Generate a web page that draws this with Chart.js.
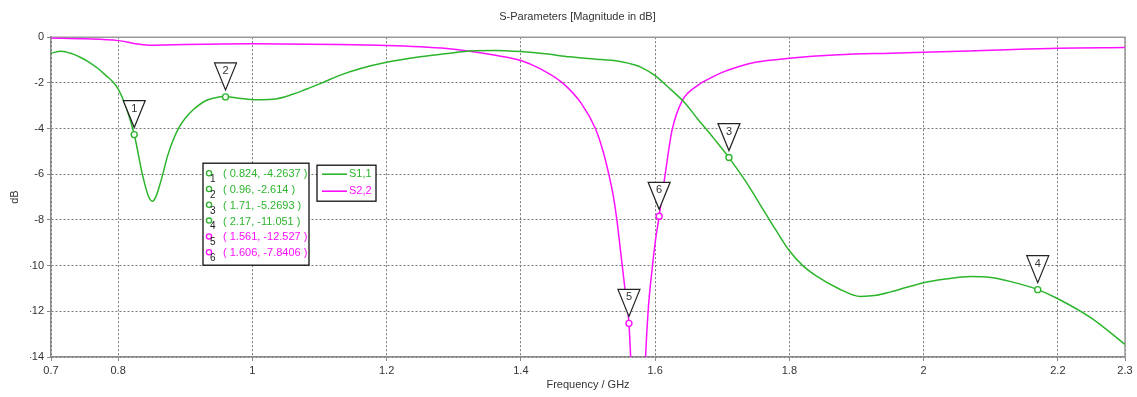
<!DOCTYPE html>
<html>
<head>
<meta charset="utf-8">
<script src="https://cdn.jsdelivr.net/npm/chart.js@4.4.1/dist/chart.umd.min.js"></script>
<style>
html,body{margin:0;padding:0;background:#fff}
</style>
</head>
<body>
<canvas id="myChart" width="1137" height="397"></canvas>
<script>
// S1,1 curve
var freqS11 = [0.70,0.715,0.732,0.745,0.757,0.77,0.782,0.792,0.80,0.811,0.824,0.836,0.845,0.851,0.856,0.861,0.867,0.873,0.882,0.891,0.90,0.911,0.931,0.945,0.958,0.98,1.005,1.03,1.06,1.08,1.104,1.129,1.16,1.20,1.25,1.30,1.3235,1.36,1.40,1.44,1.472,1.52,1.55,1.57,1.58,1.60,1.62,1.644,1.664,1.688,1.71,1.734,1.76,1.78,1.80,1.82,1.84,1.873,1.906,1.93,1.95,1.975,2.00,2.03,2.07,2.10,2.13,2.17,2.20,2.25,2.30]
var s11 = [-0.7,-0.61,-0.73,-0.9,-1.1,-1.37,-1.68,-1.95,-2.26,-2.99,-4.26,-5.98,-6.95,-7.18,-7.0,-6.57,-5.95,-5.26,-4.5,-3.94,-3.55,-3.2,-2.77,-2.65,-2.6,-2.67,-2.74,-2.72,-2.5,-2.28,-2.0,-1.68,-1.38,-1.1,-0.86,-0.68,-0.6,-0.58,-0.63,-0.74,-0.86,-0.98,-1.07,-1.22,-1.33,-1.68,-2.2,-2.87,-3.6,-4.45,-5.27,-6.27,-7.5,-8.45,-9.35,-10.0,-10.45,-11.0,-11.35,-11.3,-11.16,-10.95,-10.75,-10.6,-10.48,-10.52,-10.7,-11.05,-11.45,-12.3,-13.45]
// S2,2 curve
var freqS22 = [0.70,0.75,0.80,0.815,0.826,0.846,0.87,0.90,1.00,1.129,1.20,1.25,1.29,1.3235,1.36,1.40,1.43,1.462,1.49,1.511,1.522,1.531,1.538,1.543,1.551,1.555,1.561,1.565,1.57,1.575,1.58,1.585,1.59,1.595,1.60,1.606,1.615,1.625,1.64,1.664,1.685,1.70,1.725,1.749,1.80,1.873,1.95,2.00,2.10,2.20,2.30]
var s22 = [-0.03,-0.07,-0.15,-0.22,-0.29,-0.35,-0.34,-0.32,-0.29,-0.32,-0.36,-0.42,-0.5,-0.61,-0.78,-1.02,-1.4,-2.0,-2.9,-4.0,-4.95,-6.0,-7.0,-8.0,-10.0,-11.0,-12.53,-15.0,-19,-24,-19,-14.5,-11.8,-10.3,-9.0,-7.84,-6.0,-4.1,-2.8,-2.1,-1.75,-1.54,-1.28,-1.1,-0.92,-0.77,-0.7,-0.66,-0.57,-0.48,-0.45]

var seriesNames = ["S1,1","S2,2"]
var seriesColors = ["#2cb52c","#ff10ff"]

var xTicks = [0.7,0.8,1,1.2,1.4,1.6,1.8,2,2.2,2.3]
var yTicks = [0,-2,-4,-6,-8,-10,-12,-14]

// markers
var markerNum = [1,2,3,4,5,6]
var markerSeries = [0,0,0,0,1,1]
var markerX = [0.824,0.96,1.71,2.17,1.561,1.606]
var markerY = [-4.2637,-2.614,-5.2693,-11.051,-12.527,-7.8406]

var FONT = "'Liberation Sans', Arial, sans-serif"
Chart.defaults.font.family = FONT
Chart.defaults.font.size = 11
Chart.defaults.color = "#333"

function pts(xs, ys){
    var out = []
    for (var i = 0; i < xs.length; i++) out.push({x: xs[i], y: ys[i]})
    return out
}

var framePlugin = {
    id: 'frame',
    beforeDatasetsDraw: function(chart){
        var a = chart.chartArea, ctx = chart.ctx
        ctx.save()
        ctx.strokeStyle = "#9a9a9a"
        ctx.lineWidth = 1.5
        ctx.beginPath()
        ctx.moveTo(a.left, a.top); ctx.lineTo(a.right, a.top); ctx.lineTo(a.right, a.bottom)
        ctx.stroke()
        ctx.restore()
    }
}

var markerPlugin = {
    id: 'markers',
    afterDatasetsDraw: function(chart){
        var ctx = chart.ctx, xs = chart.scales.x, ys = chart.scales.y
        ctx.save()
        for (var i = 0; i < markerNum.length; i++){
            var px = xs.getPixelForValue(markerX[i])
            var py = ys.getPixelForValue(markerY[i])
            var col = seriesColors[markerSeries[i]]
            // point circle
            ctx.beginPath()
            ctx.arc(px, py, 3, 0, Math.PI * 2)
            ctx.fillStyle = "#fff"; ctx.fill()
            ctx.strokeStyle = col; ctx.lineWidth = 1.4; ctx.stroke()
            // triangle flag
            var tip = py - 7
            ctx.beginPath()
            ctx.moveTo(px - 11, tip - 27)
            ctx.lineTo(px + 11, tip - 27)
            ctx.lineTo(px, tip)
            ctx.closePath()
            ctx.fillStyle = "#fff"; ctx.fill()
            ctx.strokeStyle = "#222"; ctx.lineWidth = 1.2; ctx.stroke()
            ctx.fillStyle = "#333"
            ctx.font = "11px " + FONT
            ctx.textAlign = "center"; ctx.textBaseline = "middle"
            ctx.fillText(String(markerNum[i]), px, tip - 19)
        }
        ctx.restore()
    },
    afterDraw: function(chart){
        var ctx = chart.ctx, a = chart.chartArea
        ctx.save()
        // marker table
        var L = a.left + 152, T = a.top + 126, W = 106, H = 102
        ctx.fillStyle = "#fff"; ctx.fillRect(L, T, W, H)
        ctx.strokeStyle = "#111"; ctx.lineWidth = 1.3; ctx.strokeRect(L, T, W, H)
        for (var i = 0; i < markerNum.length; i++){
            var y = T + 11 + i * 15.8
            var col = seriesColors[markerSeries[i]]
            ctx.beginPath(); ctx.arc(L + 6, y - 1, 2.6, 0, Math.PI * 2)
            ctx.strokeStyle = col; ctx.lineWidth = 1.3; ctx.stroke()
            ctx.fillStyle = "#222"; ctx.font = "10px " + FONT
            ctx.textAlign = "left"; ctx.textBaseline = "middle"
            ctx.fillText(String(markerNum[i]), L + 7, y + 5)
            ctx.fillStyle = col; ctx.font = "11px " + FONT
            ctx.fillText("( " + markerX[i] + ", " + markerY[i] + " )", L + 20, y)
        }
        // legend box
        var lL = a.left + 266, lT = a.top + 128
        ctx.fillStyle = "#fff"; ctx.fillRect(lL, lT, 59, 36)
        ctx.strokeStyle = "#111"; ctx.lineWidth = 1.3; ctx.strokeRect(lL, lT, 59, 36)
        chart.data.datasets.forEach(function(ds, k){
            var yy = lT + 9 + k * 17
            ctx.strokeStyle = ds.borderColor; ctx.lineWidth = 1.6
            ctx.beginPath(); ctx.moveTo(lL + 5, yy); ctx.lineTo(lL + 30, yy); ctx.stroke()
            ctx.fillStyle = ds.borderColor; ctx.font = "11px " + FONT
            ctx.textAlign = "left"; ctx.textBaseline = "middle"
            ctx.fillText(ds.label, lL + 32, yy)
        })
        ctx.restore()
    }
}

var chart = new Chart(document.getElementById("myChart").getContext('2d'), {
    type: 'line',
    data: {
        datasets: [
            {
                label: seriesNames[0],
                data: pts(freqS11, s11),
                borderColor: seriesColors[0],
                borderWidth: 1.5,
                pointRadius: 0,
                cubicInterpolationMode: 'monotone'
            },
            {
                label: seriesNames[1],
                data: pts(freqS22, s22),
                borderColor: seriesColors[1],
                borderWidth: 1.5,
                pointRadius: 0,
                cubicInterpolationMode: 'monotone'
            }
        ]
    },
    options: {
        responsive: false,
        animation: false,
        devicePixelRatio: 1,
        layout: {padding: {left: 30, right: 12, top: 0, bottom: 0}},
        plugins: {
            legend: {display: false},
            tooltip: {enabled: false},
            title: {
                display: true,
                text: 'S-Parameters [Magnitude in dB]',
                color: '#333',
                font: {size: 11, weight: 'normal'},
                padding: {top: 10, bottom: 14}
            }
        },
        scales: {
            x: {
                type: 'linear',
                min: 0.7,
                max: 2.3,
                afterBuildTicks: function(s){ s.ticks = xTicks.map(function(v){ return {value: v} }) },
                afterFit: function(s){ s.height = 40 },
                ticks: {padding: 3, color: '#333', maxRotation: 0, autoSkip: false,
                    callback: function(v){ return String(v) }},
                grid: {color: '#777', lineWidth: 1, tickLength: 4, tickColor: '#888', tickBorderDash: []},
                border: {color: '#888', width: 1.5, dash: [2, 2]},
                title: {display: true, text: 'Frequency / GHz', color: '#333', font: {size: 11}, padding: {bottom: 5}}
            },
            y: {
                min: -14,
                max: 0,
                afterBuildTicks: function(s){ s.ticks = yTicks.map(function(v){ return {value: v} }) },
                afterFit: function(s){ s.width = 21 },
                ticks: {padding: 3, color: '#333', autoSkip: false},
                grid: {color: '#777', lineWidth: 1, tickLength: 4, tickColor: '#888', tickBorderDash: []},
                border: {color: '#888', width: 1.5, dash: [2, 2]},
                title: {display: true, text: 'dB', color: '#333', font: {size: 11}, padding: {top: -22}}
            }
        }
    },
    plugins: [framePlugin, markerPlugin]
})
</script>
</body>
</html>
